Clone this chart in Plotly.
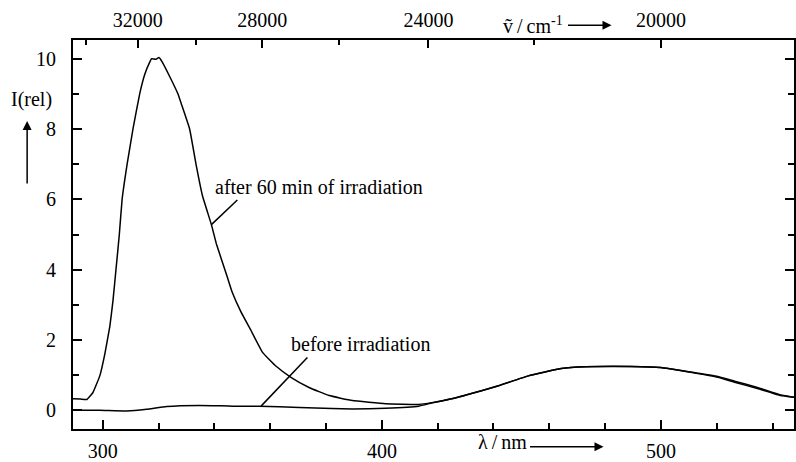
import plotly.graph_objects as go

# after 60 min of irradiation (wavelength nm, relative intensity)
after_nm = [289.3, 292.0, 294.3, 296.4, 298.9, 300.7, 302.5, 303.6, 304.7, 305.9, 306.9,
            308.7, 310.8, 313.2, 315.0, 316.8, 317.5, 318.9, 320.1, 321.3, 323.9, 326.9, 328.1,
            331.1, 333.5, 335.7, 338.9, 340.7, 344.6, 346.4, 349.5, 353.1, 357.3, 362.0,
            367.4, 373.9, 381.1, 389.4, 401.3, 413.2,
            417.9, 425.0, 435.7, 441.8, 452.5, 464.3, 472.9, 489.3, 500.0, 510.7, 520.4,
            526.4, 534.6, 542.9, 547.7]
after_val = [0.33, 0.32, 0.31, 0.50, 0.98, 1.60, 2.39, 3.10, 4.00, 5.00, 6.00,
             7.00, 8.00, 9.00, 9.55, 9.90, 10.0, 9.98, 10.03, 9.90, 9.50, 9.00, 8.72,
             8.00, 6.95, 6.10, 5.28, 4.73, 3.79, 3.35, 2.80, 2.27, 1.64, 1.26,
             0.94, 0.65, 0.42, 0.28, 0.19, 0.17,
             0.22, 0.33, 0.56, 0.70, 0.98, 1.19, 1.24, 1.25, 1.22, 1.08, 0.94,
             0.80, 0.62, 0.42, 0.37]

# before irradiation
before_nm = [289.3, 298.9, 308.6, 315.7, 322.9, 334.6, 346.4, 356.1, 370.4, 382.1, 389.4, 401.3,
             413.2, 417.9, 425.0, 435.7, 441.8, 452.5, 464.3, 472.9, 489.3, 500.0, 510.7, 520.4,
             526.4, 534.6, 542.9, 547.7]
before_val = [0.0, 0.0, -0.02, 0.03, 0.11, 0.14, 0.12, 0.12, 0.08, 0.05, 0.04, 0.06,
              0.12, 0.21, 0.33, 0.56, 0.70, 0.98, 1.19, 1.24, 1.25, 1.22, 1.09, 0.96,
              0.83, 0.65, 0.44, 0.37]

# top axis (wavenumber) ticks
wn_major = [32000, 28000, 24000, 20000]
wn_minor = [34000, 30000, 26000, 22000]

FONT = "Liberation Serif"
FS = 20
x_range = [289.3, 547.7]
y_range = [-0.53, 10.53]

fig = go.Figure()
fig.add_trace(go.Scatter(x=after_nm, y=after_val, mode="lines",
                         line=dict(color="black", width=1.5, shape="spline", smoothing=0.3),
                         showlegend=False, hoverinfo="skip"))
fig.add_trace(go.Scatter(x=before_nm, y=before_val, mode="lines",
                         line=dict(color="black", width=1.5, shape="spline", smoothing=0.4),
                         showlegend=False, hoverinfo="skip"))
# invisible trace to activate the top axis
fig.add_trace(go.Scatter(x=before_nm, y=before_val, mode="lines", xaxis="x2",
                         line=dict(color="rgba(0,0,0,0)", width=0),
                         showlegend=False, hoverinfo="skip"))

fig.update_layout(
    width=796, height=462,
    margin=dict(l=73, r=0, t=40, b=28),
    paper_bgcolor="white", plot_bgcolor="white",
    font=dict(family=FONT, size=FS, color="black"),
    xaxis=dict(range=x_range, showgrid=False, zeroline=False,
               showline=True, linecolor="black", linewidth=2, mirror=False,
               tickmode="array", tickvals=[300, 400, 500], ticktext=["300", "400", "500"],
               ticks="inside", ticklen=9, tickwidth=2, tickcolor="black",
               minor=dict(tickmode="array", tickvals=[320, 340, 360, 380, 420, 440, 460, 480, 520, 540],
                          ticks="inside", ticklen=6, tickwidth=1.5, tickcolor="black", showgrid=False),
               tickfont=dict(family=FONT, size=FS), ticklabelstandoff=3),
    xaxis2=dict(range=x_range, overlaying="x", side="top", showgrid=False, zeroline=False,
                showline=True, linecolor="black", linewidth=2,
                tickmode="array", tickvals=[1e7 / w for w in wn_major],
                ticktext=[str(w) for w in wn_major],
                ticks="inside", ticklen=8, tickwidth=2, tickcolor="black",
                minor=dict(tickmode="array", tickvals=[1e7 / w for w in wn_minor],
                           ticks="inside", ticklen=5, tickwidth=1.5, tickcolor="black", showgrid=False),
                tickfont=dict(family=FONT, size=FS), ticklabelstandoff=3),
    yaxis=dict(range=y_range, showgrid=False, zeroline=False,
               showline=True, linecolor="black", linewidth=2, mirror="ticks",
               tickmode="array", tickvals=[0, 2, 4, 6, 8, 10],
               ticks="inside", ticklen=9, tickwidth=2, tickcolor="black",
               minor=dict(tickmode="array", tickvals=[1, 3, 5, 7, 9],
                          ticks="inside", ticklen=6, tickwidth=1.5, tickcolor="black", showgrid=False),
               tickfont=dict(family=FONT, size=FS), ticklabelstandoff=11),
)

annotations = [
    dict(text="after 60 min of irradiation", x=339.3, y=6.35, xref="x", yref="y",
         xanchor="left", yanchor="middle", showarrow=False, font=dict(family=FONT, size=FS)),
    dict(text="before irradiation", x=366.8, y=1.88, xref="x", yref="y",
         xanchor="left", yanchor="middle", showarrow=False, font=dict(family=FONT, size=FS)),
    dict(text="I(rel)", x=-0.058, y=0.848, xref="paper", yref="paper",
         xanchor="center", yanchor="middle", showarrow=False, font=dict(family=FONT, size=FS)),
    dict(text="", x=-0.0636, y=0.792, xref="paper", yref="paper", ax=0, ay=64,
         showarrow=True, arrowhead=2, arrowsize=1.2, arrowwidth=1.5, arrowcolor="black"),
    dict(text="ṽ\u2009/\u2009cm<sup>-1</sup>", x=(502 - 73) / 723, y=1.038, xref="paper", yref="paper",
         xanchor="left", yanchor="middle", showarrow=False, font=dict(family=FONT, size=FS)),
    dict(text="", x=(613 - 73) / 723, y=1.038, xref="paper", yref="paper", ax=-45, ay=0,
         showarrow=True, arrowhead=2, arrowsize=1.2, arrowwidth=1.5, arrowcolor="black"),
    dict(text="λ\u2009/\u2009nm", x=(477 - 73) / 723, y=-0.033, xref="paper", yref="paper",
         xanchor="left", yanchor="middle", showarrow=False, font=dict(family=FONT, size=FS)),
    dict(text="", x=(605 - 73) / 723, y=(434 - 452) / 394, xref="paper", yref="paper", ax=-75, ay=0,
         showarrow=True, arrowhead=2, arrowsize=1.2, arrowwidth=1.5, arrowcolor="black"),
]
fig.update_layout(annotations=annotations)

fig.add_shape(type="line", x0=348.2, y0=5.98, x1=338.9, y1=5.28, xref="x", yref="y",
              line=dict(color="black", width=1.5))
fig.add_shape(type="line", x0=373.3, y0=1.50, x1=356.7, y1=0.12, xref="x", yref="y",
              line=dict(color="black", width=1.5))

fig.write_html("out.html", config={"displayModeBar": False},
               post_script="document.body.style.margin='0';document.body.style.overflow='hidden';")
